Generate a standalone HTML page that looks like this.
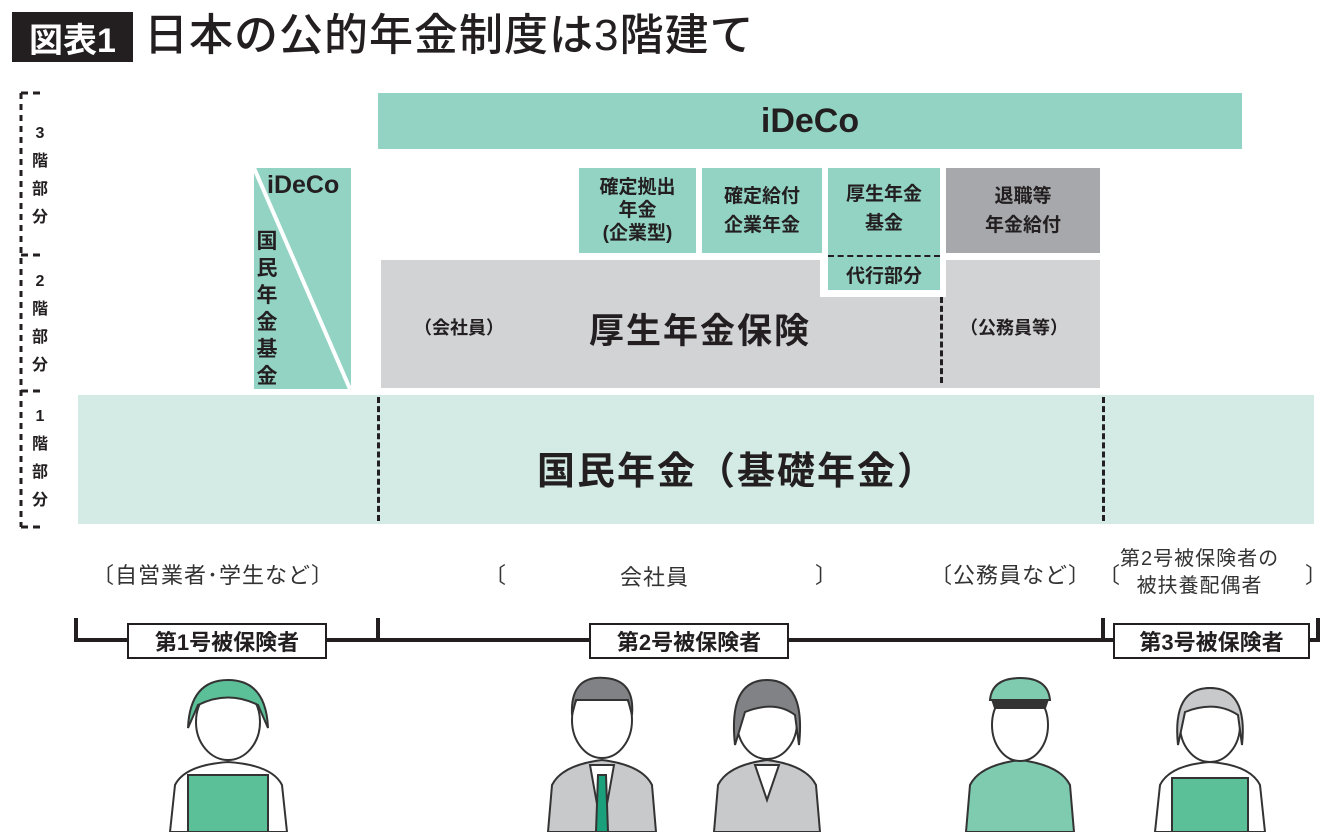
<!DOCTYPE html>
<html><head><meta charset="utf-8"><style>
body{margin:0;width:1340px;height:832px;background:#fff;position:relative;overflow:hidden;font-family:"Liberation Sans","Noto Sans CJK JP",sans-serif;color:#231f20}
.a{position:absolute}
.c{display:flex;align-items:center;justify-content:center;text-align:center;font-weight:bold}
.t{background:#93d3c3}.g{background:#d2d3d5}.d{background:#a7a8ab}.l{background:#d3ebe4}
.lab{position:absolute;border:2px solid #231f20;background:#fff;font-weight:bold;font-size:22px;display:flex;align-items:center;justify-content:center;height:32px}
.br{position:absolute;font-size:22px;color:#333;letter-spacing:1px}
</style></head><body>
<div class="a c" style="left:12px;top:12px;width:121px;height:50px;background:#231f20;color:#fff;font-size:34px">図表1</div>
<div class="a" style="left:144px;top:8px;font-size:44px;font-weight:500;line-height:56px;letter-spacing:1px">日本の公的年金制度は3階建て</div>

<svg class="a" style="left:0;top:0" width="1340" height="832">
<g stroke="#231f20" stroke-width="3" fill="none">
<line x1="21" y1="93" x2="21" y2="527" stroke-dasharray="6,5"/>
<line x1="21" y1="93" x2="42" y2="93" stroke-dasharray="7,5"/>
<line x1="21" y1="255" x2="42" y2="255" stroke-dasharray="7,5"/>
<line x1="21" y1="391" x2="42" y2="391" stroke-dasharray="7,5"/>
<line x1="21" y1="527" x2="42" y2="527" stroke-dasharray="7,5"/>
</g>
</svg>
<div class="a" style="left:30px;top:120px;width:20px;font-size:16px;line-height:28px;text-align:center;font-weight:bold">3<br>階<br>部<br>分</div>
<div class="a" style="left:30px;top:268px;width:20px;font-size:16px;line-height:28px;text-align:center;font-weight:bold">2<br>階<br>部<br>分</div>
<div class="a" style="left:30px;top:403px;width:20px;font-size:16px;line-height:28px;text-align:center;font-weight:bold">1<br>階<br>部<br>分</div>

<div class="a c t" style="left:378px;top:93px;width:864px;height:56px;font-size:34px">iDeCo</div>

<div class="a t" style="left:254px;top:168px;width:97px;height:221px"></div>
<svg class="a" style="left:254px;top:168px" width="97" height="221"><line x1="0" y1="0" x2="96" y2="221" stroke="#fff" stroke-width="4"/></svg>
<div class="a" style="left:267px;top:171px;font-size:25px;font-weight:bold">iDeCo</div>
<div class="a" style="left:254px;top:228px;width:26px;font-size:21px;line-height:27px;font-weight:bold;text-align:center">国<br>民<br>年<br>金<br>基<br>金</div>

<div class="a g" style="left:381px;top:260px;width:719px;height:128px"></div>
<div class="a" style="left:820px;top:255px;width:126px;height:42px;background:#fff"></div>
<div class="a c t" style="left:579px;top:168px;width:117px;height:85px;font-size:19px;line-height:23px">確定拠出<br>年金<br>(企業型)</div>
<div class="a c t" style="left:702px;top:168px;width:120px;height:85px;font-size:19px;line-height:29px">確定給付<br>企業年金</div>
<div class="a t" style="left:828px;top:168px;width:112px;height:122px"></div>
<div class="a c" style="left:828px;top:180px;width:112px;font-size:19px;line-height:29px">厚生年金<br>基金</div>
<div class="a" style="left:828px;top:255px;width:112px;border-top:2px dashed #231f20"></div>
<div class="a c" style="left:828px;top:259px;width:112px;height:30px;font-size:19px">代行部分</div>
<div class="a c d" style="left:946px;top:168px;width:154px;height:85px;font-size:19px;line-height:29px">退職等<br>年金給付</div>
<div class="a" style="left:940px;top:297px;height:86px;border-left:3px dashed #231f20"></div>
<div class="a" style="left:414px;top:314px;font-size:18px;font-weight:bold">（会社員）</div>
<div class="a" style="left:589px;top:303px;font-size:35px;font-weight:bold;letter-spacing:2px">厚生年金保険</div>
<div class="a" style="left:960px;top:314px;font-size:18px;font-weight:bold">（公務員等）</div>

<div class="a l" style="left:78px;top:395px;width:1236px;height:129px"></div>
<div class="a" style="left:377px;top:397px;height:124px;border-left:3px dashed #231f20"></div>
<div class="a" style="left:1102px;top:397px;height:124px;border-left:3px dashed #231f20"></div>
<div class="a" style="left:537px;top:440px;font-size:38px;font-weight:bold;letter-spacing:2px">国民年金（基礎年金）</div>

<div class="br" style="left:92px;top:558px">〔自営業者･学生など〕</div>
<div class="br" style="left:484px;top:558px">〔</div>
<div class="br" style="left:620px;top:560px">会社員</div>
<div class="br" style="left:815px;top:558px">〕</div>
<div class="br" style="left:930px;top:558px">〔公務員など〕</div>
<div class="br" style="left:1098px;top:558px">〔</div>
<div class="a" style="left:1120px;top:546px;font-size:20px;line-height:27px;text-align:center;color:#333;letter-spacing:1px">第2号被保険者の<br>被扶養配偶者</div>
<div class="br" style="left:1305px;top:558px">〕</div>

<svg class="a" style="left:0;top:0" width="1340" height="832"><g stroke="#231f20" stroke-width="4" fill="none">
<line x1="76" y1="640" x2="1318" y2="640"/>
<line x1="76" y1="618" x2="76" y2="642"/><line x1="378" y1="618" x2="378" y2="642"/>
<line x1="1103" y1="618" x2="1103" y2="642"/><line x1="1318" y1="618" x2="1318" y2="642"/></g></svg>
<div class="lab" style="left:127px;top:623px;width:196px">第1号被保険者</div>
<div class="lab" style="left:589px;top:623px;width:196px">第2号被保険者</div>
<div class="lab" style="left:1113px;top:623px;width:193px">第3号被保険者</div>

<svg class="a" style="left:0;top:0" width="1340" height="832"><g stroke="#333" stroke-width="2">
<path d="M170 832 L175 785 Q185 765 228 762 Q272 765 282 785 L287 832Z" fill="#fff"/>
<rect x="188" y="775" width="80" height="57" fill="#5bbf97"/>
<ellipse cx="228" cy="722" rx="32" ry="38" fill="#fff"/>
<path d="M188 728 Q190 680 228 680 Q266 680 268 728 L258 705 Q228 690 198 705Z" fill="#5bbf97"/>
<path d="M548 832 L552 785 Q562 765 602 760 Q642 765 652 785 L656 832Z" fill="#c8c9cb"/>
<path d="M590 765 L602 832 L614 765Z" fill="#fff"/><path d="M598 775 L606 775 L608 832 L596 832Z" fill="#1aa07a"/>
<ellipse cx="602" cy="720" rx="30" ry="38" fill="#fff"/>
<path d="M572 715 Q570 675 605 678 Q635 680 632 715 L628 700 Q600 700 576 700Z" fill="#808285"/>
<path d="M714 832 L718 785 Q728 765 767 760 Q806 765 816 785 L820 832Z" fill="#c8c9cb"/>
<path d="M755 765 L767 800 L779 765Z" fill="#fff"/>
<ellipse cx="767" cy="722" rx="30" ry="37" fill="#fff"/>
<path d="M735 745 Q728 680 767 680 Q806 680 799 745 L795 715 Q775 700 745 712Z" fill="#808285"/>
<path d="M966 832 L970 785 Q980 765 1020 760 Q1060 765 1070 785 L1074 832Z" fill="#7ecbb0"/>
<ellipse cx="1020" cy="725" rx="28" ry="36" fill="#fff"/>
<path d="M990 700 Q992 678 1020 678 Q1048 678 1050 700Z" fill="#7ecbb0"/>
<path d="M993 702 L1047 702 L1045 708 L995 708Z" fill="#333"/>
<path d="M1155 832 L1160 785 Q1170 765 1210 762 Q1250 765 1260 785 L1265 832Z" fill="#fff"/>
<rect x="1172" y="778" width="76" height="54" fill="#5bbf97"/>
<ellipse cx="1210" cy="725" rx="30" ry="37" fill="#fff"/>
<path d="M1178 745 Q1172 688 1210 688 Q1248 688 1242 745 L1238 715 Q1215 700 1185 712Z" fill="#c8c9cb"/>
</g></svg>
</body></html>
